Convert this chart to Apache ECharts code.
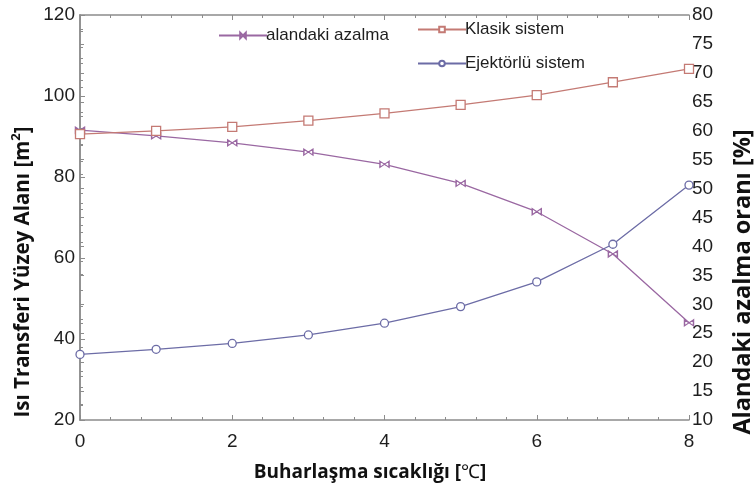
<!DOCTYPE html>
<html>
<head>
<meta charset="utf-8">
<script src="https://cdn.jsdelivr.net/npm/echarts@6/dist/echarts.min.js"></script>
<style>
  html, body { margin: 0; padding: 0; background: #fff; }
  #chart { width: 755px; height: 496px; }
</style>
</head>
<body>
<div id="chart"></div>
<script>
// Evaporation temperature (°C)
const temps = [0, 1, 2, 3, 4, 5, 6, 7, 8];
// Heat transfer surface area (m²)
const klasik = [90.6, 91.4, 92.4, 93.9, 95.7, 97.8, 100.2, 103.4, 106.7];
const ejektorlu = [36.2, 37.45, 38.9, 41.0, 43.9, 48.0, 54.1, 63.4, 78.0];
// Area reduction ratio (%)
const azalma = [60.1, 59.1, 57.9, 56.3, 54.2, 50.9, 46.0, 38.7, 26.8];

const names = ['alandaki azalma', 'Klasik sistem', 'Ejektörlü sistem'];

const axisColor = '#8c8c8c';
const labelFont = { color: '#1e1e1e', fontSize: 19, fontFamily: '"Liberation Sans", Arial, sans-serif' };
const titleFont = '"Open Sans", sans-serif';
const bowtie = 'path://M0,0 L10,5 L0,10 Z M20,0 L10,5 L20,10 Z';

function pairs(ys) { return temps.map((t, i) => [t, ys[i]]); }

const chart = echarts.init(document.getElementById('chart'), null, { renderer: 'canvas' });

const legendBase = {
  itemWidth: 48, itemHeight: 7, itemGap: 4,
  textStyle: { color: '#1e1e1e', fontSize: 17, fontFamily: '"Liberation Sans", Arial, sans-serif', padding: [0, 0, 0, -6] }
};

chart.setOption({
  animation: false,
  backgroundColor: '#fff',
  grid: { left: 80, right: 66, top: 15, bottom: 76, containLabel: false },
  legend: [
    Object.assign({ data: [names[0]], left: 213, top: 22 }, legendBase),
    Object.assign({ data: [names[1]], left: 412, top: 16 }, legendBase),
    Object.assign({ data: [names[2]], left: 412, top: 50 }, legendBase)
  ],
  xAxis: [
    {
      type: 'value', min: 0, max: 8, interval: 2,
      axisLine: { lineStyle: { color: axisColor, width: 1.5 } },
      axisTick: { inside: true, length: 5, lineStyle: { color: axisColor } },
      minorTick: { show: true, splitNumber: 5, length: 3, lineStyle: { color: axisColor } },
      axisLabel: Object.assign({ margin: 12 }, labelFont),
      splitLine: { show: false }
    },
    {
      type: 'value', position: 'top', min: 0, max: 8, interval: 2,
      axisLine: { show: true, lineStyle: { color: axisColor, width: 1.5 } },
      axisTick: { inside: true, length: 5, lineStyle: { color: axisColor } },
      minorTick: { show: true, splitNumber: 5, length: 3, lineStyle: { color: axisColor } },
      axisLabel: { show: false },
      splitLine: { show: false }
    }
  ],
  yAxis: [
    {
      type: 'value', min: 20, max: 120, interval: 20,
      axisLine: { show: true, lineStyle: { color: axisColor, width: 1.5 } },
      axisTick: { show: true, inside: true, length: 5, lineStyle: { color: axisColor } },
      minorTick: { show: true, splitNumber: 5, length: 3, lineStyle: { color: axisColor } },
      axisLabel: Object.assign({ margin: 5 }, labelFont),
      splitLine: { show: false }
    },
    {
      type: 'value', position: 'right', min: 10, max: 80, interval: 5,
      axisLine: { show: true, lineStyle: { color: axisColor, width: 1.5 } },
      axisTick: { show: true, inside: false, length: 4, lineStyle: { color: axisColor } },
      minorTick: { show: true, splitNumber: 2, length: 3, lineStyle: { color: axisColor } },
      axisLabel: Object.assign({ margin: 3 }, labelFont),
      splitLine: { show: false }
    }
  ],
  series: [
    {
      name: names[0], type: 'line', yAxisIndex: 1, data: pairs(azalma),
      symbol: bowtie, symbolSize: [9, 6], showAllSymbol: true,
      lineStyle: { color: '#9a68a2', width: 1.3 },
      itemStyle: { color: '#fff', borderColor: '#9a68a2', borderWidth: 1.2 },
      z: 3
    },
    {
      name: names[1], type: 'line', data: pairs(klasik),
      symbol: 'rect', symbolSize: 9,
      lineStyle: { color: '#c47a74', width: 1.3 },
      itemStyle: { color: '#fff', borderColor: '#c47a74', borderWidth: 1.3 },
      z: 3
    },
    {
      name: names[2], type: 'line', data: pairs(ejektorlu),
      symbol: 'circle', symbolSize: 8,
      lineStyle: { color: '#6c6ca6', width: 1.3 },
      itemStyle: { color: '#fff', borderColor: '#6c6ca6', borderWidth: 1.3 },
      z: 3
    }
  ],
  graphic: [
    {
      type: 'text', x: 22, y: 272, rotation: Math.PI / 2,
      style: {
        text: '{t|Isı Transferi Yüzey Alanı [m}{s|2}{t|]}',
        align: 'center', verticalAlign: 'middle',
        rich: {
          t: { fontSize: 20.5, fontWeight: 'bold', fontFamily: titleFont, fill: '#111', verticalAlign: 'bottom' },
          s: { fontSize: 13, fontWeight: 'bold', fontFamily: titleFont, fill: '#111', verticalAlign: 'top', padding: [0, 0, 11, 0] }
        }
      }
    },
    {
      type: 'text', x: 743, y: 282, rotation: Math.PI / 2,
      style: {
        text: 'Alandaki azalma oranı [%]',
        align: 'center', verticalAlign: 'middle',
        fontSize: 23.5, fontWeight: 'bold', fontFamily: titleFont, fill: '#111'
      }
    },
    {
      type: 'text', x: 370, y: 473,
      style: {
        text: '{t|Buharlaşma sıcaklığı [}{c|℃}{t|]}',
        align: 'center', verticalAlign: 'middle',
        rich: {
          t: { fontSize: 19, fontWeight: 'bold', fontFamily: titleFont, fill: '#111' },
          c: { fontSize: 19, fontWeight: 'normal', fontFamily: '"Liberation Serif", serif', fill: '#111' }
        }
      }
    }
  ]
});
</script>
</body>
</html>
